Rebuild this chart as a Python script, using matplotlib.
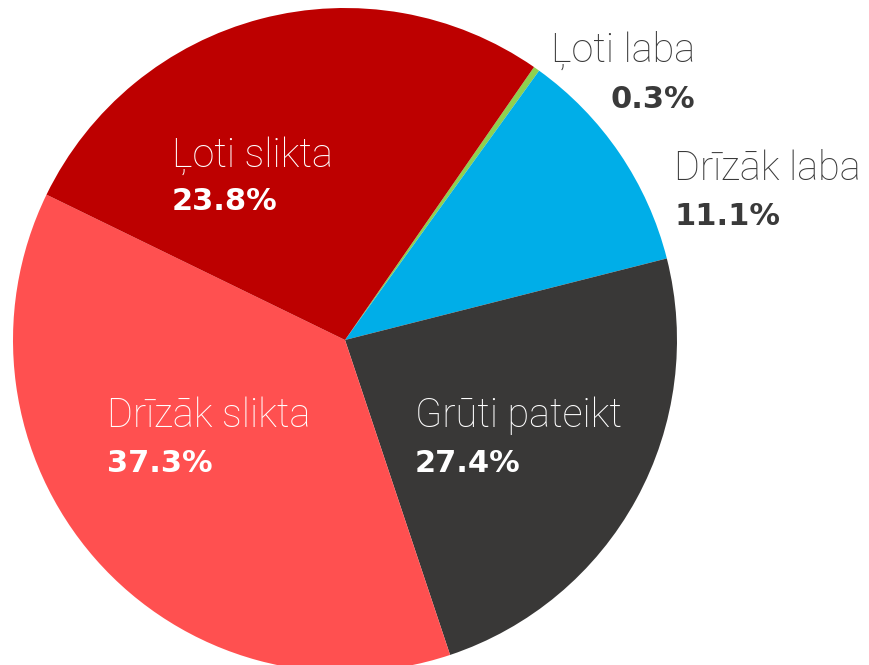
import matplotlib.pyplot as plt

# slices in drawing order, clockwise from the thin green wedge
names = ['Ļoti laba', 'Drīzāk laba', 'Grūti pateikt', 'Drīzāk slikta', 'Ļoti slikta']
# printed shares
pct_labels = ['0.3%', '11.1%', '27.4%', '37.3%', '23.8%']
# wedge sizes as drawn in the picture (the source swaps the two middle-sized wedges)
sizes = [0.3, 11.1, 23.8, 37.3, 27.4]
colors = ['#8fd14f', '#00aee8', '#393837', '#ff5050', '#bd0000']

W, H = 869, 665
fig = plt.figure(figsize=(W / 100, H / 100), dpi=100, facecolor='white')
ax = fig.add_axes([0, 0, 1, 1])

ax.pie(sizes, colors=colors, startangle=55.3, counterclock=False,
       center=(345, H - 340), radius=332,
       wedgeprops=dict(linewidth=0, antialiased=True))
ax.set_xlim(0, W)
ax.set_ylim(0, H)
ax.set_aspect('equal')
ax.axis('off')

# label anchors in pixels from top-left: (x, name baseline, pct baseline, ha, text colour)
label_pos = [
    (695, 62, 108, 'right', '#3a3a3a'),
    (674, 180, 225, 'left', '#3a3a3a'),
    (415, 427, 472, 'left', 'white'),
    (107, 427, 472, 'left', 'white'),
    (172, 167, 210, 'left', 'white'),
]

for name, pct, (x, yn, yp, ha, col) in zip(names, pct_labels, label_pos):
    ax.text(x, H - yn, name, fontsize=28.5, family='Roboto', fontweight='light',
            color=col, ha=ha, va='baseline')
    ax.text(x, H - yp, pct, fontsize=22, family='DejaVu Sans', fontweight='bold',
            color=col, ha=ha, va='baseline')

fig.savefig('out.png', dpi=100, facecolor='white')
